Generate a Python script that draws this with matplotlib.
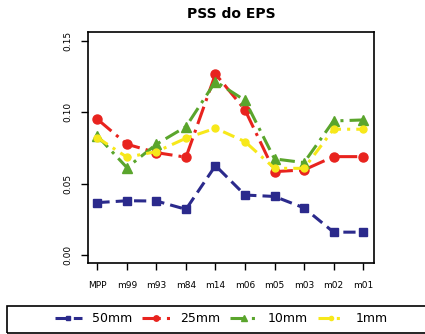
import matplotlib
matplotlib.use("Agg")
import matplotlib.pyplot as plt
from matplotlib.patches import Rectangle

# dados
cats = ["MPP", "m99", "m93", "m84", "m14", "m06", "m05", "m03", "m02", "m01"]
s50 = [0.0367, 0.0380, 0.0378, 0.0320, 0.0626, 0.0420, 0.0410, 0.0330, 0.0160, 0.0160]
s25 = [0.0951, 0.0776, 0.0717, 0.0685, 0.1268, 0.1016, 0.0584, 0.0596, 0.0689, 0.0689]
s10 = [0.0834, 0.0612, 0.0776, 0.0899, 0.1215, 0.1083, 0.0673, 0.0647, 0.0939, 0.0946]
s1 = [0.0822, 0.0685, 0.0724, 0.0818, 0.0888, 0.0794, 0.0607, 0.0607, 0.0881, 0.0881]
names = ["50mm", "25mm", "10mm", "1mm"]

fig = plt.figure(figsize=(4.25, 3.34), dpi=100)
ax = fig.add_axes([0.207, 0.2126, 0.673, 0.692])

x = range(len(cats))
ax.plot(x, s50, color="#2b2a8c", lw=2.2, dashes=(4, 2), marker="s", ms=6, label=names[0])
ax.plot(x, s25, color="#e8231e", lw=2.2, dashes=(6, 2, 1, 2), marker="o", ms=6.5, label=names[1])
ax.plot(x, s10, color="#5aa52c", lw=2.2, dashes=(5, 2, 1, 2), marker="^", ms=7, label=names[2])
ax.plot(x, s1, color="#f7e81a", lw=2.2, dashes=(4, 2, 1, 2), marker="o", ms=5, label=names[3])

ax.set_xlim(-0.32, 9.37)
ax.set_ylim(-0.0056, 0.1563)
ax.set_xticks(list(x))
ax.set_xticklabels(cats, fontsize=6.5)
ax.set_yticks([0.0, 0.05, 0.10, 0.15])
ax.set_yticklabels(["0.00", "0.05", "0.10", "0.15"], fontsize=6.5, rotation=90, va="center")
ax.tick_params(axis="x", length=5, width=1, pad=8)
ax.tick_params(axis="y", length=5, width=1, pad=6)
for sp in ax.spines.values():
    sp.set_linewidth(1.2)
ax.set_title("PSS do EPS", fontsize=10, fontweight="bold", pad=10)

fig.patches.append(Rectangle((7 / 425, 1 / 334), 0.99, 27 / 334, transform=fig.transFigure,
                             fill=False, edgecolor="black", lw=1.2))
fig.legend(loc="center", bbox_to_anchor=(0.52, 0.045), ncol=4, frameon=False,
           fontsize=9, handlelength=2.2, columnspacing=0.8, handletextpad=0.8, markerscale=0.6)

fig.savefig("out.png", dpi=100)
